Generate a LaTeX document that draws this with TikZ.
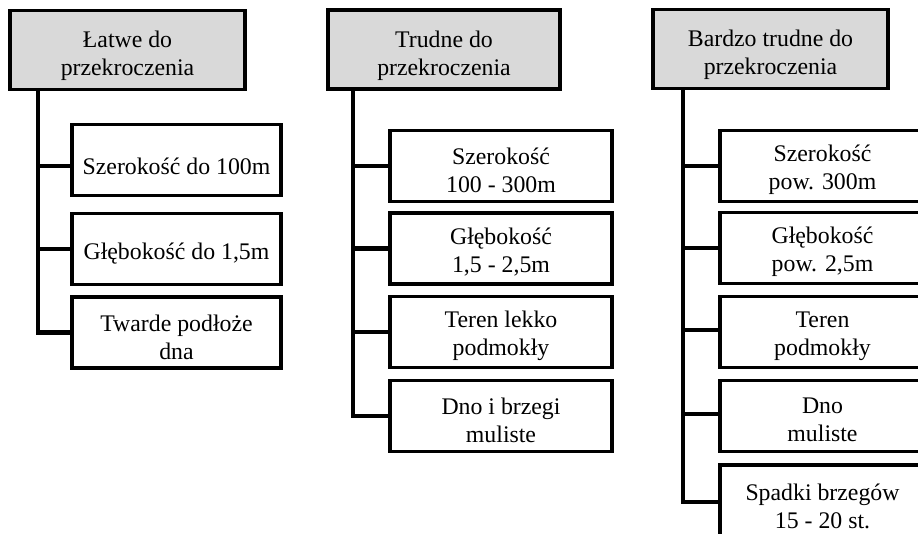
\documentclass[tikz,border=0pt]{standalone}
\usepackage{fontspec}
\setmainfont{Liberation Serif}
\begin{document}
\begin{tikzpicture}[x=1pt,y=-1pt,
  txt/.style={font=\fontsize{23.8}{28}\selectfont, align=center, inner sep=0pt},
  head/.style={draw=black, line width=3.2pt, fill=black!15, minimum width=235pt, minimum height=79pt, inner sep=0pt},
  item/.style={draw=black, line width=3.2pt, fill=white, minimum height=71pt, inner sep=0pt},
  conn/.style={draw=black, line width=4.5pt}]
\clip (0,0) rectangle (918,533);
\fill[white] (0,0) rectangle (918,533);
% ---------- column 1 ----------
\node[head] (h1) at (127.5,50) {};
\node[txt] (h1t) at ([yshift=-6pt]h1.center) {Łatwe do\\przekroczenia};
\coordinate (t1) at (38,89.5);
\node[item, minimum width=209pt] (a1) at (176.5,160) {};
\node[item, minimum width=209pt] (a2) at (176.5,249) {};
\node[item, minimum width=209pt] (a3) at (176.5,332.5) {};
\node[txt] (a1t) at ([yshift=-6pt]a1.center) {Szerokość do 100m};
\node[txt] (a2t) at ([yshift=-5pt]a2.center) {Głębokość do 1,5m};
\node[txt] (a3t) at ([yshift=-5pt]a3.center) {Twarde podłoże\\dna};
\draw[conn] (t1) |- (a3.west);
\draw[conn] ([yshift=-6pt]a1.west) -- ([yshift=-6pt]t1 |- a1.west);
\draw[conn] (t1 |- a2.west) -- (a2.west);
% ---------- column 2 ----------
\node[head, minimum width=232pt] (h2) at (444,49.5) {};
\node[txt] (h2t) at ([yshift=-6pt]h2.center) {Trudne do\\przekroczenia};
\coordinate (t2) at (353,89);
\node[item, minimum width=222pt] (b1) at (501,166) {};
\node[item, minimum width=222pt] (b2) at (501,248.5) {};
\node[item, minimum width=222pt] (b3) at (501,332) {};
\node[item, minimum width=222pt] (b4) at (501,416) {};
\node[txt] (b1t) at ([yshift=-4pt]b1.center) {Szerokość\\100 - 300m};
\node[txt] (b2t) at ([yshift=-4pt]b2.center) {Głębokość\\1,5 - 2,5m};
\node[txt] (b3t) at ([yshift=-4pt]b3.center) {Teren lekko\\podmokły};
\node[txt] (b4t) at ([yshift=-4pt]b4.center) {Dno i brzegi\\muliste};
\draw[conn] (t2) |- (b4.west);
\draw[conn] (t2 |- b1.west) -- (b1.west);
\draw[conn] (t2 |- b2.west) -- (b2.west);
\draw[conn] (t2 |- b3.west) -- (b3.west);
% ---------- column 3 ----------
\node[head] (h3) at (770.5,49) {};
\node[txt] (h3t) at ([yshift=-6pt]h3.center) {Bardzo trudne do\\przekroczenia};
\coordinate (t3) at (683,88.5);
\node[item, minimum width=205pt] (c1) at (822.5,166) {};
\node[item, minimum width=205pt] (c2) at (822.5,248) {};
\node[item, minimum width=205pt] (c3) at (822.5,332) {};
\node[item, minimum width=205pt] (c4) at (822.5,416) {};
\node[item, minimum width=205pt, minimum height=74pt] (c5) at (822.5,502) {};
\node[txt] (c1t) at ([yshift=-4pt]c1.center) {Szerokość\\pow. 300m};
\node[txt] (c2t) at ([yshift=-4pt]c2.center) {Głębokość\\pow. 2,5m};
\node[txt] (c3t) at ([yshift=-4pt]c3.center) {Teren\\podmokły};
\node[txt] (c4t) at ([yshift=-4pt]c4.center) {Dno\\muliste};
\node[txt] (c5t) at ([yshift=-4pt]c5.center) {Spadki brzegów\\15 - 20 st.};
\draw[conn] (t3) |- (c5.west);
\draw[conn] (t3 |- c1.west) -- (c1.west);
\draw[conn] (t3 |- c2.west) -- (c2.west);
\draw[conn] ([yshift=2pt]t3 |- c3.west) -- ([yshift=2pt]c3.west);
\draw[conn] ([yshift=2pt]t3 |- c4.west) -- ([yshift=2pt]c4.west);
\end{tikzpicture}
\end{document}
